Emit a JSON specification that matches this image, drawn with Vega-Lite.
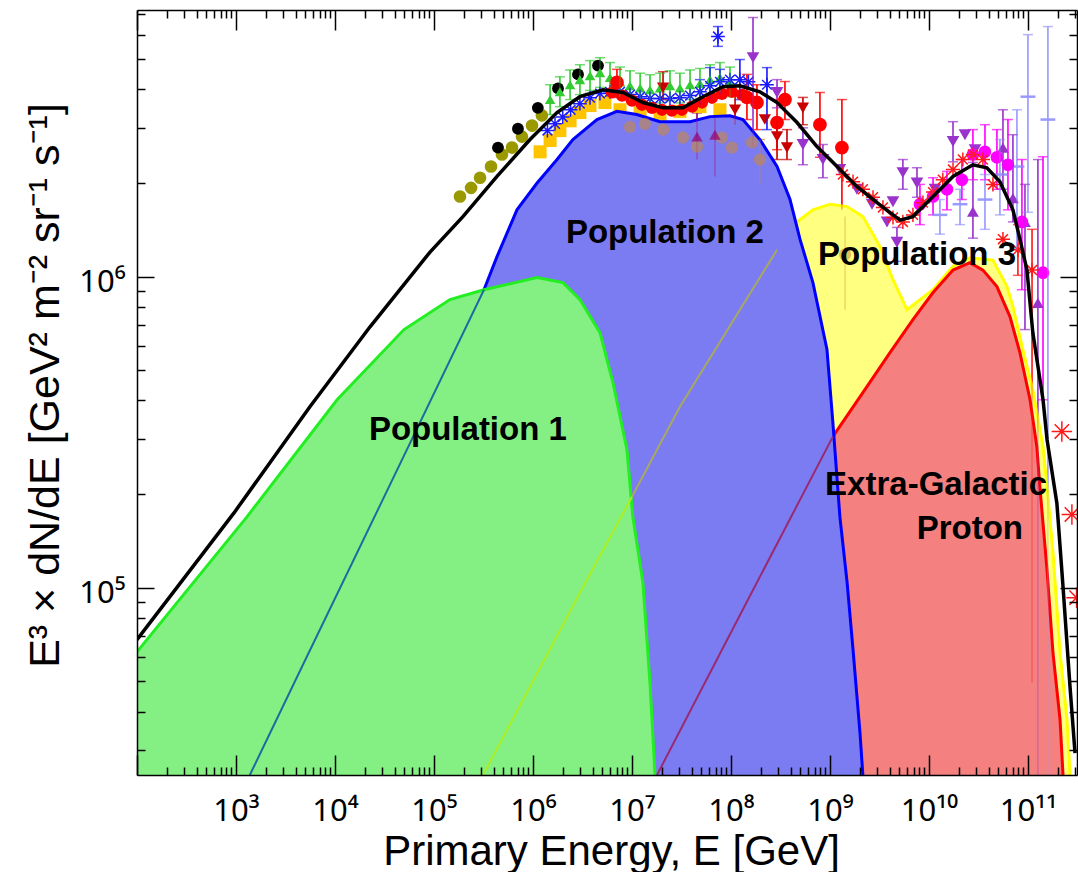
{
"$schema": "https://vega.github.io/schema/vega-lite/v6.json",
"width": 940, "height": 765,
"autosize": {"type": "none"},
"padding": {"left": 137, "top": 10, "right": 1, "bottom": 97},
"background": "white",
"config": {"view": {"stroke": null}, "font": "Liberation Sans"},
"datasets": {
"curves": [
{"c":"p3","E":3.13e5,"F":2.5e4},{"c":"p3","E":2.98e6,"F":9.64e4},{"c":"p3","E":1.0e7,"F":1.96e5},{"c":"p3","E":3.05e7,"F":3.82e5},{"c":"p3","E":2.92e8,"F":1.22e6},{"c":"p3","E":4.65e8,"F":1.50e6},{"c":"p3","E":6.73e8,"F":1.64e6},{"c":"p3","E":1.0e9,"F":1.71e6},{"c":"p3","E":1.49e9,"F":1.68e6},{"c":"p3","E":2.15e9,"F":1.56e6},{"c":"p3","E":3.2e9,"F":1.25e6},{"c":"p3","E":4.33e9,"F":9.78e5},{"c":"p3","E":6.0e9,"F":7.83e5},{"c":"p3","E":1.10e10,"F":9.08e5},{"c":"p3","E":1.75e10,"F":1.08e6},{"c":"p3","E":2.59e10,"F":1.15e6},{"c":"p3","E":4.43e10,"F":1.13e6},{"c":"p3","E":6.14e10,"F":9.29e5},{"c":"p3","E":7.05e10,"F":8.01e5},{"c":"p3","E":8.89e10,"F":5.82e5},{"c":"p3","E":1.12e11,"F":4.33e5},{"c":"p3","E":1.42e11,"F":2.84e5},{"c":"p3","E":1.56e11,"F":2.11e5},{"c":"p3","E":1.79e11,"F":1.30e5},{"c":"p3","E":2.11e11,"F":6.18e4},{"c":"p3","E":2.48e11,"F":3.77e4},{"c":"p3","E":2.66e11,"F":2.5e4},
{"c":"eg","E":1.79e7,"F":2.5e4},{"c":"eg","E":1.38e8,"F":8.75e4},{"c":"eg","E":1.07e9,"F":3.06e5},{"c":"eg","E":2.15e9,"F":4.24e5},{"c":"eg","E":4.04e9,"F":5.70e5},{"c":"eg","E":6.89e9,"F":7.28e5},{"c":"eg","E":1.10e10,"F":8.89e5},{"c":"eg","E":1.75e10,"F":1.05e6},{"c":"eg","E":2.59e10,"F":1.11e6},{"c":"eg","E":3.51e10,"F":1.05e6},{"c":"eg","E":4.86e10,"F":9.29e5},{"c":"eg","E":6.58e10,"F":7.44e5},{"c":"eg","E":8.30e10,"F":5.70e5},{"c":"eg","E":1.05e11,"F":4.02e5},{"c":"eg","E":1.23e11,"F":2.84e5},{"c":"eg","E":1.32e11,"F":2.11e5},{"c":"eg","E":1.56e11,"F":1.14e5},{"c":"eg","E":1.79e11,"F":6.18e4},{"c":"eg","E":2.11e11,"F":3.77e4},{"c":"eg","E":2.26e11,"F":2.5e4},
{"c":"p2","E":1.38e3,"F":2.5e4},{"c":"p2","E":4.64e3,"F":5.57e4},{"c":"p2","E":2.85e4,"F":1.84e5},{"c":"p2","E":3.2e5,"F":9.08e5},{"c":"p2","E":4.33e5,"F":1.16e6},{"c":"p2","E":6.89e5,"F":1.64e6},{"c":"p2","E":1.10e6,"F":2.00e6},{"c":"p2","E":1.75e6,"F":2.38e6},{"c":"p2","E":2.53e6,"F":2.76e6},{"c":"p2","E":4.43e6,"F":3.20e6},{"c":"p2","E":7.05e6,"F":3.40e6},{"c":"p2","E":1.12e7,"F":3.32e6},{"c":"p2","E":1.92e7,"F":3.15e6},{"c":"p2","E":3.86e7,"F":3.15e6},{"c":"p2","E":6.14e7,"F":3.27e6},{"c":"p2","E":9.78e7,"F":3.29e6},{"c":"p2","E":1.32e8,"F":3.20e6},{"c":"p2","E":1.96e8,"F":2.76e6},{"c":"p2","E":2.92e8,"F":2.26e6},{"c":"p2","E":3.95e8,"F":1.77e6},{"c":"p2","E":4.98e8,"F":1.32e6},{"c":"p2","E":6.73e8,"F":9.57e5},{"c":"p2","E":9.33e8,"F":5.83e5},{"c":"p2","E":1.07e9,"F":3.40e5},{"c":"p2","E":1.26e9,"F":1.69e5},{"c":"p2","E":1.49e9,"F":1.04e5},{"c":"p2","E":1.71e9,"F":6.32e4},{"c":"p2","E":2.01e9,"F":3.42e4},{"c":"p2","E":2.15e9,"F":2.5e4},
{"c":"p1","E":100,"F":6.22e4},{"c":"p1","E":1.29e3,"F":1.69e5},{"c":"p1","E":1.05e4,"F":4.02e5},{"c":"p1","E":4.98e4,"F":6.76e5},{"c":"p1","E":1.45e5,"F":8.44e5},{"c":"p1","E":3.2e5,"F":9.08e5},{"c":"p1","E":1.10e6,"F":9.93e5},{"c":"p1","E":2.01e6,"F":9.57e5},{"c":"p1","E":2.98e6,"F":8.44e5},{"c":"p1","E":4.75e6,"F":6.61e5},{"c":"p1","E":6.43e6,"F":4.56e5},{"c":"p1","E":8.9e6,"F":2.78e5},{"c":"p1","E":1.02e7,"F":1.69e5},{"c":"p1","E":1.29e7,"F":1.04e5},{"c":"p1","E":1.52e7,"F":4.95e4},{"c":"p1","E":1.71e7,"F":2.5e4},
{"c":"tot","E":100,"F":6.81e4},{"c":"tot","E":955,"F":1.74e5},{"c":"tot","E":5.58e3,"F":3.82e5},{"c":"tot","E":2.26e4,"F":6.90e5},{"c":"tot","E":9.12e4,"F":1.20e6},{"c":"tot","E":1.96e5,"F":1.56e6},{"c":"tot","E":4.33e5,"F":2.10e6},{"c":"tot","E":9.33e5,"F":2.76e6},{"c":"tot","E":1.75e6,"F":3.37e6},{"c":"tot","E":2.98e6,"F":3.79e6},{"c":"tot","E":5.09e6,"F":3.99e6},{"c":"tot","E":8.11e6,"F":3.91e6},{"c":"tot","E":1.29e7,"F":3.63e6},{"c":"tot","E":2.06e7,"F":3.49e6},{"c":"tot","E":3.27e7,"F":3.49e6},{"c":"tot","E":5.21e7,"F":3.79e6},{"c":"tot","E":8.30e7,"F":4.08e6},{"c":"tot","E":1.23e8,"F":4.11e6},{"c":"tot","E":1.96e8,"F":3.93e6},{"c":"tot","E":2.92e8,"F":3.63e6},{"c":"tot","E":4.65e8,"F":3.13e6},{"c":"tot","E":7.39e8,"F":2.62e6},{"c":"tot","E":1.18e9,"F":2.26e6},{"c":"tot","E":1.87e9,"F":1.95e6},{"c":"tot","E":2.99e9,"F":1.73e6},{"c":"tot","E":5.09e9,"F":1.52e6},{"c":"tot","E":6.89e9,"F":1.56e6},{"c":"tot","E":1.10e10,"F":1.81e6},{"c":"tot","E":1.75e10,"F":2.10e6},{"c":"tot","E":2.78e10,"F":2.29e6},{"c":"tot","E":3.85e10,"F":2.24e6},{"c":"tot","E":5.21e10,"F":2.02e6},{"c":"tot","E":7.05e10,"F":1.64e6},{"c":"tot","E":8.30e10,"F":1.32e6},{"c":"tot","E":9.77e10,"F":1.05e6},{"c":"tot","E":1.12e11,"F":6.61e5},{"c":"tot","E":1.42e11,"F":4.02e5},{"c":"tot","E":1.56e11,"F":2.99e5},{"c":"tot","E":1.96e11,"F":1.87e5},{"c":"tot","E":2.26e11,"F":1.01e5},{"c":"tot","E":2.66e11,"F":4.81e4},{"c":"tot","E":2.99e11,"F":2.94e4}
],
"ghost": [
{"g":"gb","E":1.38e3,"F":2.5e4},{"g":"gb","E":4.64e3,"F":5.57e4},{"g":"gb","E":2.85e4,"F":1.84e5},{"g":"gb","E":3.2e5,"F":9.08e5},
{"g":"gy1","E":3.13e5,"F":2.5e4},{"g":"gy1","E":2.98e6,"F":9.64e4},{"g":"gy1","E":1.0e7,"F":1.96e5},
{"g":"gy2","E":1.0e7,"F":1.96e5},{"g":"gy2","E":3.05e7,"F":3.82e5},{"g":"gy2","E":2.92e8,"F":1.22e6},
{"g":"gr","E":1.79e7,"F":2.5e4},{"g":"gr","E":1.38e8,"F":8.75e4},{"g":"gr","E":1.07e9,"F":3.06e5}
],
"pts": [
{"s":"bk","E":4.43e5,"F":2.60e6},{"s":"bk","E":7.05e5,"F":2.99e6},{"s":"bk","E":1.12e6,"F":3.49e6},{"s":"bk","E":1.79e6,"F":4.03e6},{"s":"bk","E":2.85e6,"F":4.47e6},{"s":"bk","E":4.54e6,"F":4.77e6},
{"s":"ol","E":1.83e5,"F":1.81e6},{"s":"ol","E":2.37e5,"F":1.93e6},{"s":"ol","E":2.92e5,"F":2.08e6},{"s":"ol","E":3.77e5,"F":2.26e6},{"s":"ol","E":4.86e5,"F":2.47e6},{"s":"ol","E":6.14e5,"F":2.60e6},{"s":"ol","E":7.74e5,"F":2.82e6},{"s":"ol","E":9.78e5,"F":3.06e6},{"s":"ol","E":1.23e6,"F":3.30e6},
{"s":"sq","E":1.18e6,"F":2.52e6},{"s":"sq","E":1.49e6,"F":2.74e6},{"s":"sq","E":1.87e6,"F":2.95e6},{"s":"sq","E":2.37e6,"F":3.17e6},{"s":"sq","E":2.98e6,"F":3.37e6},{"s":"sq","E":3.77e6,"F":3.55e6},{"s":"sq","E":5.33e6,"F":3.63e6},{"s":"sq","E":7.57e6,"F":3.44e6},{"s":"sq","E":1.21e7,"F":3.40e6},{"s":"sq","E":1.92e7,"F":3.32e6},{"s":"sq","E":3.05e7,"F":3.40e6},{"s":"sq","E":4.86e7,"F":3.52e6},{"s":"sq","E":7.74e7,"F":3.44e6},
{"s":"gr","E":1.49e6,"F":3.71e6},{"s":"gr","E":1.87e6,"F":3.93e6},{"s":"gr","E":2.37e6,"F":4.14e6},{"s":"gr","E":2.98e6,"F":4.30e6},{"s":"gr","E":3.77e6,"F":4.43e6},{"s":"gr","E":4.75e6,"F":4.53e6},{"s":"gr","E":6.00e6,"F":4.37e6},{"s":"gr","E":7.57e6,"F":4.23e6},{"s":"gr","E":9.55e6,"F":4.11e6},{"s":"gr","E":1.21e7,"F":4.04e6},{"s":"gr","E":1.52e7,"F":3.99e6},{"s":"gr","E":1.92e7,"F":4.04e6},{"s":"gr","E":2.42e7,"F":4.11e6},{"s":"gr","E":3.05e7,"F":4.04e6},{"s":"gr","E":3.86e7,"F":4.14e6},{"s":"gr","E":4.86e7,"F":4.18e6},{"s":"gr","E":6.14e7,"F":4.30e6},{"s":"gr","E":7.74e7,"F":4.37e6},{"s":"gr","E":9.77e7,"F":4.23e6},
{"s":"bs","E":1.40e6,"F":2.95e6},{"s":"bs","E":1.67e6,"F":3.10e6},{"s":"bs","E":2.00e6,"F":3.26e6},{"s":"bs","E":2.40e6,"F":3.44e6},{"s":"bs","E":2.98e6,"F":3.60e6},{"s":"bs","E":3.77e6,"F":3.76e6},{"s":"bs","E":4.75e6,"F":3.88e6},{"s":"bs","E":6.00e6,"F":3.93e6},{"s":"bs","E":7.57e6,"F":3.93e6},{"s":"bs","E":9.55e6,"F":3.85e6},{"s":"bs","E":1.21e7,"F":3.79e6},{"s":"bs","E":1.52e7,"F":3.74e6},{"s":"bs","E":1.92e7,"F":3.74e6},{"s":"bs","E":2.42e7,"F":3.74e6},{"s":"bs","E":3.05e7,"F":3.76e6},{"s":"bs","E":3.86e7,"F":3.82e6},{"s":"bs","E":4.86e7,"F":3.93e6},{"s":"bs","E":6.14e7,"F":4.11e6},{"s":"bs","E":7.74e7,"F":4.23e6},{"s":"bs","E":9.77e7,"F":4.30e6},{"s":"bs","E":1.23e8,"F":4.30e6},{"s":"bs","E":1.50e8,"F":4.23e6},{"s":"bs","E":2.31e8,"F":4.14e6},{"s":"bs","E":7.39e7,"F":5.92e6},
{"s":"rd","E":6.28e6,"F":3.91e6},{"s":"rd","E":7.93e6,"F":3.82e6},{"s":"rd","E":1.0e7,"F":3.68e6},{"s":"rd","E":1.26e7,"F":3.57e6},{"s":"rd","E":1.59e7,"F":3.49e6},{"s":"rd","E":2.01e7,"F":3.44e6},{"s":"rd","E":2.53e7,"F":3.42e6},{"s":"rd","E":3.20e7,"F":3.44e6},{"s":"rd","E":4.04e7,"F":3.52e6},{"s":"rd","E":5.09e7,"F":3.63e6},{"s":"rd","E":6.43e7,"F":3.76e6},{"s":"rd","E":8.11e7,"F":3.87e6},{"s":"rd","E":1.02e8,"F":3.93e6},{"s":"rd","E":1.29e8,"F":3.85e6},
{"s":"rc","E":7.05e6,"F":4.21e6},{"s":"rc","E":1.45e8,"F":3.77e6},{"s":"rc","E":1.83e8,"F":3.63e6},{"s":"rc","E":2.92e8,"F":3.13e6},{"s":"rc","E":3.51e8,"F":3.71e6},{"s":"rc","E":7.92e8,"F":3.08e6},{"s":"rc","E":1.32e9,"F":2.60e6},
{"s":"dt","E":2.06e7,"F":4.05e6},{"s":"dt","E":1.10e8,"F":3.44e6},{"s":"dt","E":2.20e8,"F":3.20e6},{"s":"dt","E":2.92e8,"F":2.82e6},{"s":"dt","E":3.68e8,"F":2.60e6},{"s":"dt","E":5.33e8,"F":3.49e6},
{"s":"pu","E":1.67e8,"F":5.06e6},{"s":"pu","E":2.92e8,"F":3.91e6},{"s":"pu","E":5.33e8,"F":2.66e6},{"s":"pu","E":8.49e8,"F":2.38e6},{"s":"pu","E":1.26e9,"F":2.21e6},{"s":"pu","E":1.87e9,"F":1.91e6},{"s":"pu","E":2.66e9,"F":1.71e6},{"s":"pu","E":3.77e9,"F":1.50e6},{"s":"pu","E":4.33e9,"F":1.74e6},{"s":"pu","E":4.75e9,"F":1.29e6},{"s":"pu","E":5.45e9,"F":2.16e6},{"s":"pu","E":7.57e9,"F":2.00e6},{"s":"pu","E":1.15e10,"F":1.91e6},{"s":"pu","E":1.75e10,"F":2.72e6},{"s":"pu","E":2.31e10,"F":2.86e6},{"s":"pu","E":2.92e10,"F":2.56e6},
{"s":"pt","E":2.78e10,"F":1.62e6},{"s":"pt","E":5.59e10,"F":2.60e6},{"s":"pt","E":7.05e10,"F":1.79e6},{"s":"pt","E":9.33e10,"F":1.50e6},{"s":"pt","E":1.26e11,"F":8.24e5},
{"s":"mg","E":8.11e9,"F":1.71e6},{"s":"mg","E":1.10e10,"F":1.81e6},{"s":"mg","E":1.52e10,"F":1.91e6},{"s":"mg","E":2.15e10,"F":2.05e6},{"s":"mg","E":2.78e10,"F":2.47e6},{"s":"mg","E":3.68e10,"F":2.52e6},{"s":"mg","E":4.86e10,"F":2.42e6},{"s":"mg","E":6.28e10,"F":2.29e6},{"s":"mg","E":8.69e10,"F":1.50e6},{"s":"mg","E":1.42e11,"F":1.03e6},
{"s":"rs","E":1.35e9,"F":2.13e6},{"s":"rs","E":1.71e9,"F":2.02e6},{"s":"rs","E":2.15e9,"F":1.91e6},{"s":"rs","E":2.72e9,"F":1.80e6},{"s":"rs","E":3.43e9,"F":1.67e6},{"s":"rs","E":4.33e9,"F":1.55e6},{"s":"rs","E":5.45e9,"F":1.50e6},{"s":"rs","E":6.89e9,"F":1.58e6},{"s":"rs","E":8.69e9,"F":1.73e6},{"s":"rs","E":1.10e10,"F":1.87e6},{"s":"rs","E":1.38e10,"F":2.05e6},{"s":"rs","E":1.75e10,"F":2.21e6},{"s":"rs","E":2.20e10,"F":2.38e6},{"s":"rs","E":2.78e10,"F":2.47e6},{"s":"rs","E":3.51e10,"F":2.38e6},{"s":"rs","E":4.43e10,"F":1.98e6},{"s":"rs","E":5.59e10,"F":1.32e6},{"s":"rs","E":7.92e10,"F":1.22e6},{"s":"rs","E":1.10e11,"F":1.05e6},
{"s":"rx","E":2.20e11,"F":3.18e5},{"s":"rx","E":2.78e11,"F":1.72e5},{"s":"rx","E":3.1e11,"F":9.29e4},
{"s":"lb","E":1.0e11,"F":3.79e6},{"s":"lb","E":1.59e11,"F":3.20e6},{"s":"lb","E":7.74e10,"F":2.26e6},{"s":"lb","E":1.29e10,"F":1.58e6},{"s":"lb","E":2.06e10,"F":1.71e6},{"s":"lb","E":3.68e10,"F":1.77e6},{"s":"lb","E":5.21e10,"F":2.13e6},
{"s":"dm","E":4.54e7,"F":2.82e6},{"s":"dm","E":6.89e7,"F":2.86e6},
{"s":"or","E":9.55e6,"F":3.03e6},{"s":"or","E":1.35e7,"F":3.10e6},{"s":"or","E":2.06e7,"F":2.97e6},{"s":"or","E":3.27e7,"F":2.80e6},{"s":"or","E":4.54e7,"F":2.62e6},{"s":"or","E":8.11e7,"F":2.80e6},{"s":"or","E":1.02e8,"F":2.60e6},{"s":"or","E":1.63e8,"F":2.70e6},{"s":"or","E":1.96e8,"F":2.38e6},{"s":"or","E":1.42e9,"F":1.18e6}
],
"errs": [
{"s":"gr","E":1.49e6,"lo":3.32e6,"hi":4.14e6},{"s":"gr","E":1.87e6,"lo":3.52e6,"hi":4.39e6},{"s":"gr","E":2.37e6,"lo":3.71e6,"hi":4.62e6},{"s":"gr","E":2.98e6,"lo":3.85e6,"hi":4.80e6},{"s":"gr","E":3.77e6,"lo":3.97e6,"hi":4.95e6},{"s":"gr","E":4.75e6,"lo":4.06e6,"hi":5.06e6},{"s":"gr","E":6.00e6,"lo":3.91e6,"hi":4.88e6},{"s":"gr","E":7.57e6,"lo":3.79e6,"hi":4.72e6},{"s":"gr","E":9.55e6,"lo":3.68e6,"hi":4.59e6},{"s":"gr","E":1.21e7,"lo":3.62e6,"hi":4.51e6},{"s":"gr","E":1.52e7,"lo":3.57e6,"hi":4.46e6},{"s":"gr","E":1.92e7,"lo":3.62e6,"hi":4.51e6},{"s":"gr","E":2.42e7,"lo":3.68e6,"hi":4.59e6},{"s":"gr","E":3.05e7,"lo":3.62e6,"hi":4.51e6},{"s":"gr","E":3.86e7,"lo":3.71e6,"hi":4.62e6},{"s":"gr","E":4.86e7,"lo":3.74e6,"hi":4.67e6},{"s":"gr","E":6.14e7,"lo":3.85e6,"hi":4.80e6},{"s":"gr","E":7.74e7,"lo":3.91e6,"hi":4.88e6},{"s":"gr","E":9.77e7,"lo":3.79e6,"hi":4.72e6},
{"s":"bs","E":4.86e7,"lo":3.57e6,"hi":4.30e6},{"s":"bs","E":6.14e7,"lo":3.71e6,"hi":4.70e6},{"s":"bs","E":7.74e7,"lo":3.85e6,"hi":4.64e6},{"s":"bs","E":1.23e8,"lo":3.71e6,"hi":4.99e6},{"s":"bs","E":2.31e8,"lo":2.97e6,"hi":4.70e6},{"s":"bs","E":7.39e7,"lo":5.50e6,"hi":6.37e6},
{"s":"rc","E":7.05e6,"lo":3.77e6,"hi":4.64e6},{"s":"rc","E":1.45e8,"lo":3.20e6,"hi":4.47e6},{"s":"rc","E":1.83e8,"lo":2.97e6,"hi":4.14e6},{"s":"rc","E":2.92e8,"lo":2.56e6,"hi":3.71e6},{"s":"rc","E":3.51e8,"lo":3.20e6,"hi":4.24e6},{"s":"rc","E":7.92e8,"lo":2.42e6,"hi":3.91e6},{"s":"rc","E":1.32e9,"lo":1.64e6,"hi":3.71e6},
{"s":"dt","E":2.06e7,"lo":3.71e6,"hi":4.56e6},{"s":"dt","E":1.10e8,"lo":3.08e6,"hi":3.85e6},{"s":"dt","E":2.92e8,"lo":2.38e6,"hi":3.20e6},{"s":"dt","E":3.68e8,"lo":2.38e6,"hi":2.97e6},{"s":"dt","E":5.33e8,"lo":3.08e6,"hi":3.77e6},
{"s":"pu","E":1.67e8,"lo":2.60e6,"hi":6.81e6},{"s":"pu","E":2.92e8,"lo":3.49e6,"hi":4.30e6},{"s":"pu","E":5.33e8,"lo":2.29e6,"hi":3.01e6},{"s":"pu","E":8.49e8,"lo":2.08e6,"hi":2.66e6},{"s":"pu","E":4.75e9,"lo":1.12e6,"hi":1.44e6},{"s":"pu","E":5.45e9,"lo":1.91e6,"hi":2.38e6},{"s":"pu","E":7.57e9,"lo":1.80e6,"hi":2.24e6},{"s":"pu","E":1.75e10,"lo":2.34e6,"hi":3.15e6},
{"s":"pt","E":2.78e10,"lo":1.33e6,"hi":2.33e6},{"s":"pt","E":5.59e10,"lo":1.91e6,"hi":3.44e6},{"s":"pt","E":7.05e10,"lo":1.50e6,"hi":2.86e6},{"s":"pt","E":9.33e10,"lo":6.76e5,"hi":1.98e6},{"s":"pt","E":1.26e11,"lo":2.0e4,"hi":2.38e6},
{"s":"mg","E":8.11e9,"lo":1.47e6,"hi":1.98e6},{"s":"mg","E":1.10e10,"lo":1.58e6,"hi":2.08e6},{"s":"mg","E":1.52e10,"lo":1.64e6,"hi":2.18e6},{"s":"mg","E":2.15e10,"lo":1.77e6,"hi":2.38e6},{"s":"mg","E":2.78e10,"lo":2.05e6,"hi":2.97e6},{"s":"mg","E":3.68e10,"lo":2.05e6,"hi":3.08e6},{"s":"mg","E":4.86e10,"lo":1.91e6,"hi":2.97e6},{"s":"mg","E":6.28e10,"lo":1.64e6,"hi":3.20e6},{"s":"mg","E":8.69e10,"lo":9.08e5,"hi":2.38e6},{"s":"mg","E":1.42e11,"lo":4.02e5,"hi":2.43e6},
{"s":"rs","E":7.92e10,"lo":1.01e6,"hi":1.47e6},{"s":"rs","E":1.10e11,"lo":4.95e4,"hi":1.42e6},
{"s":"lb","E":1.0e11,"lo":1.61e6,"hi":6.0e6},{"s":"lb","E":1.59e11,"lo":2.0e4,"hi":6.37e6},{"s":"lb","E":7.74e10,"lo":1.22e6,"hi":3.44e6},{"s":"lb","E":1.29e10,"lo":1.37e6,"hi":1.77e6},{"s":"lb","E":2.06e10,"lo":1.47e6,"hi":1.91e6},{"s":"lb","E":3.68e10,"lo":1.42e6,"hi":2.13e6},{"s":"lb","E":5.21e10,"lo":1.58e6,"hi":2.76e6},
{"s":"dm","E":4.54e7,"lo":2.38e6,"hi":3.36e6},{"s":"dm","E":6.89e7,"lo":2.10e6,"hi":3.24e6},
{"s":"or","E":1.96e8,"lo":1.98e6,"hi":2.76e6},{"s":"or","E":1.42e9,"lo":7.83e5,"hi":1.56e6}
],
"labels": [
{"t":"Population 1","E":2.20e5,"F":2.99e5},
{"t":"Population 2","E":2.15e7,"F":1.28e6},
{"t":"Population 3","E":7.57e9,"F":1.09e6},
{"t":"Extra-Galactic","E":1.18e10,"F":1.99e5},
{"t":"Proton","E":2.59e10,"F":1.43e5}
]
},
"encoding": {
"x": {"field":"E","type":"quantitative","scale":{"type":"log","domain":[100,3.13e11],"nice":false},"axis":null},
"y": {"field":"F","type":"quantitative","scale":{"type":"log","domain":[25000,7.2e6],"nice":false},"axis":null}
},
"layer": [
{"data":{"name":"errs"},"mark":{"type":"rule","strokeWidth":1.5,"clip":true},
 "encoding":{
  "x":{"field":"E","type":"quantitative","scale":{"type":"log","domain":[100,3.13e11],"nice":false},
   "axis":{"orient":"bottom","title":"Primary Energy, E [GeV]","titleFont":"Liberation Sans","titleFontSize":42,"titleFontWeight":"normal","titleColor":"#000000","titleX":474,"titleY":89,"titleBaseline":"alphabetic","titleAlign":"center","titleAnchor":null,
    "labelExpr":"abs(log(datum.value)/LN10 - round(log(datum.value)/LN10)) < 0.000001 ? ['10⁰','10¹','','10³','10⁴','10⁵','10⁶','10⁷','10⁸','10⁹','10¹⁰','10¹¹','10¹²'][round(log(datum.value)/LN10)] : ''",
    "labelFont":"Noto Sans","labelFontSize":31,"labelColor":"#000000","labelBaseline":"alphabetic","labelPadding":65,"labelOverlap":false,"labelFlush":false,"labelBound":false,
    "tickSize":{"condition":{"test":"abs(log(datum.value)/LN10 - round(log(datum.value)/LN10)) < 0.000001","value":-20},"value":-8},
    "tickColor":"#000000","tickWidth":1.5,"domainColor":"#000000","domainWidth":1.5,"grid":false,"zindex":1,"tickCount":30}},
  "y":{"field":"lo","type":"quantitative","scale":{"type":"log","domain":[25000,7.2e6],"nice":false},
   "axis":{"orient":"left","title":"E³ × dN/dE [GeV² m⁻² sr⁻¹ s⁻¹]","titleFont":"Liberation Sans","titleFontSize":43,"titleFontWeight":"normal","titleColor":"#000000","titleX":-79,"titleY":375,"titleBaseline":"alphabetic","titleAlign":"center","titleAngle":270,"titleAnchor":null,
    "labelExpr":"abs(log(datum.value)/LN10 - round(log(datum.value)/LN10)) < 0.000001 ? ['10⁰','10¹','10²','10³','10⁴','10⁵','10⁶','10⁷'][round(log(datum.value)/LN10)] : ''",
    "labelFont":"Noto Sans","labelFontSize":31,"labelColor":"#000000","labelAlign":"right","labelBaseline":"middle","labelPadding":29,"labelOffset":6,"labelOverlap":false,"labelFlush":false,"labelBound":false,
    "tickSize":{"condition":{"test":"abs(log(datum.value)/LN10 - round(log(datum.value)/LN10)) < 0.000001","value":-17},"value":-8},
    "tickColor":"#000000","tickWidth":1.5,"domainColor":"#000000","domainWidth":1.5,"grid":false,"zindex":1,"tickCount":30}},
  "y2":{"field":"hi"},
  "color":{"field":"s","type":"nominal","legend":null,"scale":{"domain":["gr","bs","rc","dt","pu","pt","mg","rs","lb","dm","or"],"range":["#33cc33","#1a1aff","#ff0000","#c80000","#9933cc","#9933cc","#ff00ff","#ff1a1a","#9999ff","#99006a","#cc8833"]}}
 }},
{"data":{"name":"errs"},"mark":{"type":"tick","orient":"horizontal","size":10,"thickness":1.5,"clip":true},
 "encoding":{
  "x":{"field":"E","type":"quantitative","scale":{"type":"log","domain":[100,3.13e11],"nice":false},
   "axis":{"orient":"top","title":null,"labels":false,"tickSize":{"condition":{"test":"abs(log(datum.value)/LN10 - round(log(datum.value)/LN10)) < 0.000001","value":-20},"value":-8},"tickColor":"#000000","tickWidth":1.5,"domainColor":"#000000","domainWidth":1.5,"grid":false,"zindex":1,"tickCount":30}},
  "y":{"field":"hi","type":"quantitative","scale":{"type":"log","domain":[25000,7.2e6],"nice":false},
   "axis":{"orient":"right","title":null,"labels":false,"tickSize":{"condition":{"test":"abs(log(datum.value)/LN10 - round(log(datum.value)/LN10)) < 0.000001","value":-17},"value":-8},"tickColor":"#000000","tickWidth":1.5,"domainColor":"#000000","domainWidth":1.5,"grid":false,"zindex":1,"tickCount":30}},
  "color":{"field":"s","type":"nominal","legend":null,"scale":{"domain":["gr","bs","rc","dt","pu","pt","mg","rs","lb","dm","or"],"range":["#33cc33","#1a1aff","#ff0000","#c80000","#9933cc","#9933cc","#ff00ff","#ff1a1a","#9999ff","#99006a","#cc8833"]}}
 }},
{"data":{"name":"errs"},"mark":{"type":"tick","orient":"horizontal","size":10,"thickness":1.5,"clip":true},
 "encoding":{
  "y":{"field":"lo","type":"quantitative","scale":{"type":"log","domain":[25000,7.2e6],"nice":false},"axis":null},
  "color":{"field":"s","type":"nominal","legend":null,"scale":{"domain":["gr","bs","rc","dt","pu","pt","mg","rs","lb","dm","or"],"range":["#33cc33","#1a1aff","#ff0000","#c80000","#9933cc","#9933cc","#ff00ff","#ff1a1a","#9999ff","#99006a","#cc8833"]}}
 }},
{"data":{"name":"pts"},"transform":[{"filter":"datum.s==='ol'"}],"mark":{"type":"point","shape":"circle","filled":true,"size":160,"color":"#9a9a00","opacity":1,"clip":true}},
{"data":{"name":"pts"},"transform":[{"filter":"datum.s==='bk'"}],"mark":{"type":"point","shape":"circle","filled":true,"size":140,"color":"#000000","opacity":1,"clip":true}},
{"data":{"name":"pts"},"transform":[{"filter":"datum.s==='sq'"}],"mark":{"type":"point","shape":"square","filled":true,"size":170,"color":"#ffc400","opacity":1,"clip":true}},
{"data":{"name":"pts"},"transform":[{"filter":"datum.s==='gr'"}],"mark":{"type":"point","shape":"triangle-up","filled":true,"size":110,"color":"#33cc33","opacity":1,"clip":true}},
{"data":{"name":"pts"},"transform":[{"filter":"datum.s==='bs'"}],"mark":{"type":"point","shape":"M-1,0L1,0M0,-1L0,1M-0.7,-0.7L0.7,0.7M-0.7,0.7L0.7,-0.7","filled":false,"size":190,"stroke":"#1a1aff","strokeWidth":1.5,"opacity":1,"clip":true}},
{"data":{"name":"pts"},"transform":[{"filter":"datum.s==='rd'"}],"mark":{"type":"point","shape":"circle","filled":true,"size":150,"color":"#ff0000","opacity":1,"clip":true}},
{"data":{"name":"pts"},"transform":[{"filter":"datum.s==='rc'"}],"mark":{"type":"point","shape":"circle","filled":true,"size":190,"color":"#ff0000","opacity":1,"clip":true}},
{"data":{"name":"pts"},"transform":[{"filter":"datum.s==='dt'"}],"mark":{"type":"point","shape":"triangle-down","filled":true,"size":150,"color":"#c80000","opacity":1,"clip":true}},
{"data":{"name":"pts"},"transform":[{"filter":"datum.s==='pu'"}],"mark":{"type":"point","shape":"triangle-down","filled":true,"size":160,"color":"#9933cc","opacity":1,"clip":true}},
{"data":{"name":"pts"},"transform":[{"filter":"datum.s==='pt'"}],"mark":{"type":"point","shape":"triangle-up","filled":true,"size":140,"color":"#9933cc","opacity":1,"clip":true}},
{"data":{"name":"pts"},"transform":[{"filter":"datum.s==='lb'"}],"mark":{"type":"point","shape":"M-1,0L1,0","filled":false,"size":220,"stroke":"#9999ff","strokeWidth":2.5,"opacity":1,"clip":true}},
{"data":{"name":"pts"},"transform":[{"filter":"datum.s==='mg'"}],"mark":{"type":"point","shape":"circle","filled":true,"size":160,"color":"#ff00ff","opacity":1,"clip":true}},
{"data":{"name":"pts"},"transform":[{"filter":"datum.s==='rs'"}],"mark":{"type":"point","shape":"M-1,0L1,0M0,-1L0,1M-0.7,-0.7L0.7,0.7M-0.7,0.7L0.7,-0.7","filled":false,"size":200,"stroke":"#ff1a1a","strokeWidth":1.5,"opacity":1,"clip":true}},
{"data":{"name":"pts"},"transform":[{"filter":"datum.s==='rx'"}],"mark":{"type":"point","shape":"M-1,0L1,0M0,-1L0,1M-0.7,-0.7L0.7,0.7M-0.7,0.7L0.7,-0.7","filled":false,"size":420,"stroke":"#ff1a1a","strokeWidth":1.5,"opacity":1,"clip":true}},
{"data":{"name":"curves"},"transform":[{"filter":"datum.c==='p3'"}],"mark":{"type":"area","color":"#ffff80","opacity":1,"clip":true},"encoding":{"y2":{"datum":25000}}},
{"data":{"name":"curves"},"transform":[{"filter":"datum.c==='p3'"}],"mark":{"type":"line","color":"#ffff00","strokeWidth":3,"clip":true}},
{"data":{"name":"curves"},"transform":[{"filter":"datum.c==='eg'"}],"mark":{"type":"area","color":"#f48080","opacity":1,"clip":true},"encoding":{"y2":{"datum":25000}}},
{"data":{"name":"curves"},"transform":[{"filter":"datum.c==='eg'"}],"mark":{"type":"line","color":"#ff0000","strokeWidth":3,"clip":true}},
{"data":{"name":"curves"},"transform":[{"filter":"datum.c==='p2'"}],"mark":{"type":"area","color":"#7c7cf2","opacity":1,"clip":true},"encoding":{"y2":{"datum":25000}}},
{"data":{"name":"curves"},"transform":[{"filter":"datum.c==='p2'"}],"mark":{"type":"line","color":"#0000ff","strokeWidth":3,"clip":true}},
{"data":{"name":"curves"},"transform":[{"filter":"datum.c==='p1'"}],"mark":{"type":"area","color":"#84f084","opacity":1,"clip":true},"encoding":{"y2":{"datum":25000}}},
{"data":{"name":"curves"},"transform":[{"filter":"datum.c==='p1'"}],"mark":{"type":"line","color":"#22ee22","strokeWidth":3,"clip":true}},
{"data":{"name":"errs"},"mark":{"type":"rule","strokeWidth":1.5,"opacity":0.35,"clip":true},
 "encoding":{
  "y":{"field":"lo","type":"quantitative","scale":{"type":"log","domain":[25000,7.2e6],"nice":false},"axis":null},
  "y2":{"field":"hi"},
  "color":{"field":"s","type":"nominal","legend":null,"scale":{"domain":["gr","bs","rc","dt","pu","pt","mg","rs","lb","dm","or"],"range":["#33cc33","#1a1aff","#ff0000","#c80000","#9933cc","#9933cc","#ff00ff","#ff1a1a","#9999ff","#99006a","#cc8833"]}}
 }},
{"data":{"name":"pts"},"transform":[{"filter":"datum.s==='or'"}],"mark":{"type":"point","shape":"circle","filled":true,"size":150,"color":"#cc8833","opacity":0.55,"clip":true}},
{"data":{"name":"pts"},"transform":[{"filter":"datum.s==='dm'"}],"mark":{"type":"point","shape":"triangle-up","filled":true,"size":130,"color":"#99006a","opacity":0.7,"clip":true}},
{"data":{"name":"ghost"},"transform":[{"filter":"datum.g==='gb'"}],"mark":{"type":"line","color":"#1f6aa0","strokeWidth":2,"clip":true}},
{"data":{"name":"ghost"},"transform":[{"filter":"datum.g==='gy1'"}],"mark":{"type":"line","color":"#aaee22","strokeWidth":2,"clip":true}},
{"data":{"name":"ghost"},"transform":[{"filter":"datum.g==='gy2'"}],"mark":{"type":"line","color":"#a8a860","strokeWidth":2,"clip":true}},
{"data":{"name":"ghost"},"transform":[{"filter":"datum.g==='gr'"}],"mark":{"type":"line","color":"#9a2a70","strokeWidth":2,"clip":true}},
{"data":{"name":"curves"},"transform":[{"filter":"datum.c==='tot'"}],"mark":{"type":"line","color":"#000000","strokeWidth":3.5,"clip":true}},
{"data":{"name":"labels"},"mark":{"type":"text","font":"Liberation Sans","fontWeight":"bold","fontSize":33,"align":"center","baseline":"alphabetic","color":"#000000"},"encoding":{"text":{"field":"t","type":"nominal"}}}
],
"resolve": {"axis": {"x": "independent", "y": "independent"}}
}
